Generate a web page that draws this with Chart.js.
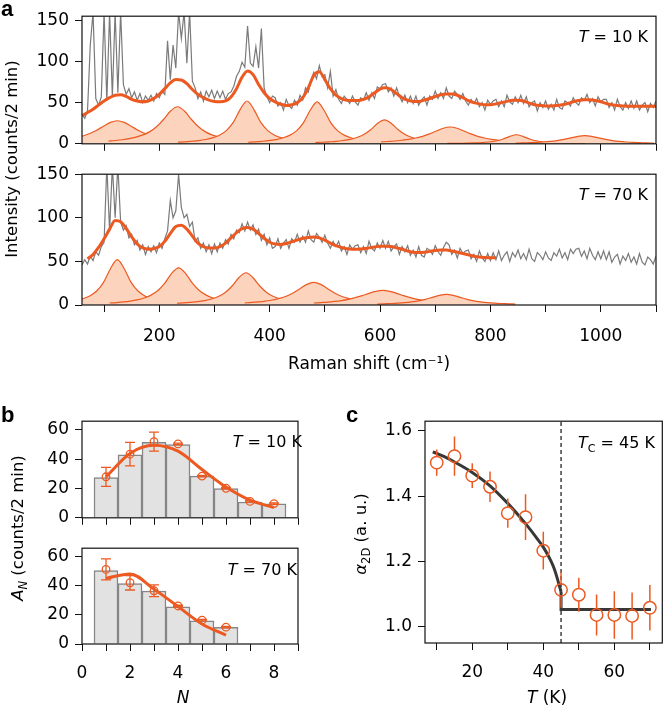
<!DOCTYPE html>
<html>
<head>
<meta charset="utf-8">
<script src="https://cdn.jsdelivr.net/npm/chart.js@4.4.1/dist/chart.umd.min.js"></script>
<style>
  body { margin: 0; width: 670px; height: 708px; overflow: hidden; background: #fff; position: relative;
         font-family: "DejaVu Sans", sans-serif; color: #000; }
  canvas, .lbl { position: absolute; }
  .panel { font-family: "Liberation Sans", Arial, sans-serif; font-weight: bold; font-size: 22px; line-height: 22px; }
  .note { font-size: 16px; line-height: 16px; white-space: nowrap; text-align: right; }
  .ytitle { font-size: 16.5px; white-space: nowrap; transform: translate(-50%, -50%) rotate(-90deg); }
  .xtitle { font-size: 17px; white-space: nowrap; transform: translate(-50%, -50%); }
  sub { font-size: 70%; }
</style>
</head>
<body>
<canvas id="a1" width="670" height="160" style="left:0;top:0"></canvas>
<canvas id="a2" width="670" height="222" style="left:0;top:158px"></canvas>
<canvas id="b1" width="310" height="129" style="left:0;top:405px"></canvas>
<canvas id="b2" width="310" height="178" style="left:0;top:532px"></canvas>
<canvas id="c1" width="330" height="304" style="left:340px;top:405px"></canvas>

<div class="lbl panel" style="left:1px;top:-2px">a</div>
<div class="lbl panel" style="left:1px;top:404px">b</div>
<div class="lbl panel" style="left:346px;top:404px">c</div>

<div class="lbl note" style="right:22px;top:29px"><i>T</i> = 10 K</div>
<div class="lbl note" style="right:22px;top:187px"><i>T</i> = 70 K</div>
<div class="lbl note" style="right:368px;top:434px"><i>T</i> = 10 K</div>
<div class="lbl note" style="right:373px;top:562px"><i>T</i> = 70 K</div>
<div class="lbl note" style="right:15px;top:435px"><i>T</i><sub>C</sub> = 45 K</div>

<div class="lbl ytitle" style="left:11px;top:159px">Intensity (counts/2 min)</div>
<div class="lbl ytitle" style="left:19px;top:528px"><i>A<sub>N</sub></i> (counts/2 min)</div>
<div class="lbl ytitle" style="left:362px;top:534px"><i>α</i><sub>2D</sub> (a. u.)</div>
<div class="lbl xtitle" style="left:183px;top:697px"><i>N</i></div>
<div class="lbl xtitle" style="left:547px;top:697px"><i>T</i> (K)</div>

<script>
// ---- panel a: Raman spectra (raw every 5 cm-1 from 60, fits every 10 cm-1) ----
const rawStart = 60, rawStep = 5;
const raw10K = [
  36, 31, 40, 120, 160, 55, 47, 57, 160, 52,
  160, 57, 160, 62, 160, 72, 60, 67, 56, 63,
  53, 61, 50, 58, 53, 59, 52, 61, 56, 64,
  60, 125, 78, 120, 92, 160, 128, 160, 98, 160,
  76, 68, 55, 63, 52, 64, 57, 65, 55, 64,
  56, 64, 54, 61, 63, 70, 82, 88, 99, 93,
  143, 98, 94, 118, 92, 140, 68, 57, 50, 58,
  56, 46, 50, 41, 54, 46, 43, 53, 47, 59,
  53, 68, 63, 77, 87, 79, 95, 82, 84, 68,
  88, 58, 66, 54, 49, 58, 54, 49, 58, 51,
  47, 56, 53, 62, 53, 62, 55, 69, 67, 72,
  73, 63, 68, 58, 68, 58, 51, 59, 50, 58,
  49, 58, 47, 53, 57, 47, 58, 54, 64, 55,
  62, 55, 68, 58, 55, 64, 60, 54, 61, 52,
  47, 54, 49, 55, 45, 50, 41, 53, 48, 52,
  54, 45, 52, 45, 59, 51, 48, 57, 50, 59,
  49, 57, 45, 50, 52, 40, 50, 44, 52, 42,
  48, 41, 54, 44, 42, 52, 50, 46, 56, 50,
  47, 56, 53, 60, 50, 55, 46, 57, 51, 54,
  54, 44, 50, 41, 54, 45, 41, 50, 43, 52,
  43, 52, 41, 47, 50, 39, 49, 44, 52
];
const raw70K = [
  46, 52, 47, 56, 51, 61, 57, 67, 72, 160,
  85, 160, 100, 160, 95, 86, 91, 77, 81, 69,
  74, 63, 69, 58, 67, 61, 68, 60, 71, 65,
  76, 85, 120, 100, 108, 150, 112, 100, 104, 90,
  95, 73, 77, 65, 71, 61, 69, 59, 70, 61,
  71, 65, 75, 70, 81, 76, 86, 83, 93, 85,
  95, 86, 92, 81, 87, 74, 81, 69, 77, 65,
  67, 76, 65, 71, 75, 65, 76, 72, 81, 72,
  79, 72, 85, 75, 72, 82, 78, 72, 80, 71,
  65, 73, 67, 73, 62, 67, 58, 69, 64, 68,
  69, 60, 67, 59, 73, 65, 62, 71, 65, 74,
  65, 73, 62, 67, 70, 58, 67, 61, 68, 57,
  63, 55, 67, 57, 55, 65, 63, 58, 68, 61,
  57, 66, 72, 69, 58, 63, 54, 65, 59, 62,
  63, 53, 58, 50, 62, 54, 50, 59, 51, 60,
  52, 62, 51, 57, 61, 50, 60, 55, 63, 53,
  59, 52, 64, 53, 50, 60, 57, 52, 61, 54,
  51, 60, 56, 64, 54, 60, 52, 64, 59, 64,
  65, 56, 62, 53, 65, 57, 52, 61, 53, 62,
  52, 61, 49, 55, 58, 47, 56, 51, 59, 49,
  55, 47, 59, 49, 46, 55, 52, 47, 56
];
const fitStep = 10;
const fit10KStart = 60;
const fit10K = [
  34, 38, 42, 47, 52, 56, 59, 59.5, 57.5, 54,
  52, 51, 52, 55, 60, 67, 74, 78, 77.5, 73,
  66, 60, 56, 53, 51.5, 51, 52, 57, 67, 81,
  88.5, 84, 72, 62, 55, 51, 48, 46.5, 47.5, 50,
  56, 68, 83, 87.5, 78, 67, 59, 55, 53, 52.5,
  52.5, 54, 57, 62, 66.5, 68, 66, 61, 56, 53,
  51.5, 51.5, 53, 55, 57.5, 59.5, 60.5, 60.5, 59, 56,
  52.5, 50, 48.5, 47.5, 47.5, 48.5, 50, 51.5, 53, 53,
  52, 49.5, 47.5, 46.5, 46, 46, 46.5, 47.5, 49, 51,
  52.5, 53.5, 53.5, 52.5, 51, 49, 47.5, 46.5, 46, 45.5,
  45.5, 45.5, 45.5, 45.5, 45.5
];
const fit70KStart = 70;
const fit70K = [
  53, 58, 66, 76, 87, 97, 95.5, 88, 78, 70,
  65.5, 64, 64.5, 67, 73, 82, 90, 91.5, 87, 79,
  71, 67, 65.5, 65.5, 67, 71, 77, 83, 87.5, 89,
  87, 82, 76.5, 72, 70, 69.5, 70.5, 72.5, 74.5, 76.5,
  77.5, 78, 77, 74.5, 71, 68, 66, 64.5, 64, 64,
  64.5, 65.5, 66.5, 67.5, 67.5, 67, 65.5, 64, 62, 60.5,
  60.3, 60.5, 61.5, 62.5, 63, 63, 62, 60.5, 59, 57.5,
  56, 55, 54.5, 54.3, 54.3
];
// fitted peak components, sampled at these offsets from each centre
const peakOffsets = [-125, -112.5, -100, -87.5, -75, -62.5, -50, -37.5, -25, -12.5, 0,
  12.5, 25, 37.5, 50, 62.5, 75, 87.5, 100, 112.5, 125];
const peaks10KCenters = [124, 233, 359, 486, 608, 727, 847, 971];
const peaks10K = [
  [3.2, 3.9, 4.7, 5.9, 7.4, 9.5, 12.5, 16.5, 21.4, 26, 28, 26, 21.4, 16.5, 12.5, 9.5, 7.4, 5.9, 4.7, 3.9, 3.2],
  [3.3, 4, 4.9, 6.2, 8.1, 10.8, 14.8, 21, 29.8, 39.9, 45, 39.9, 29.8, 21, 14.8, 10.8, 8.1, 6.2, 4.9, 4, 3.3],
  [2, 2.4, 3.1, 3.9, 5.2, 7.2, 10.4, 16, 26, 41.6, 52, 41.6, 26, 16, 10.4, 7.2, 5.2, 3.9, 3.1, 2.4, 2],
  [1.9, 2.4, 3, 3.8, 5.1, 7, 10.2, 15.7, 25.5, 40.8, 51, 40.8, 25.5, 15.7, 10.2, 7, 5.1, 3.8, 3, 2.4, 1.9],
  [1.6, 1.9, 2.4, 3, 4, 5.4, 7.7, 11.3, 17.1, 24.7, 29, 24.7, 17.1, 11.3, 7.7, 5.4, 4, 3, 2.4, 1.9, 1.6],
  [2.3, 2.8, 3.4, 4.3, 5.4, 7, 9.1, 12, 15.6, 18.9, 20.4, 18.9, 15.6, 12, 9.1, 7, 5.4, 4.3, 3.4, 2.8, 2.3],
  [0.4, 0.5, 0.6, 0.8, 1.1, 1.5, 2.2, 3.4, 5.5, 8.8, 11, 8.8, 5.5, 3.4, 2.2, 1.5, 1.1, 0.8, 0.6, 0.5, 0.4],
  [0.9, 1.1, 1.4, 1.7, 2.2, 2.9, 3.9, 5.3, 7.2, 9.1, 10, 9.1, 7.2, 5.3, 3.9, 2.9, 2.2, 1.7, 1.4, 1.1, 0.9]
];
const peaks70KCenters = [124, 235, 357, 480, 605, 720];
const peaks70K = [
  [2, 2.4, 3.1, 3.9, 5.2, 7.2, 10.4, 16, 26, 41.6, 52, 41.6, 26, 16, 10.4, 7.2, 5.2, 3.9, 3.1, 2.4, 2],
  [2.3, 2.8, 3.5, 4.5, 5.9, 8, 11.3, 16.6, 25.1, 36.3, 42.6, 36.3, 25.1, 16.6, 11.3, 8, 5.9, 4.5, 3.5, 2.8, 2.3],
  [2, 2.4, 3.1, 3.9, 5.1, 6.9, 9.8, 14.4, 21.8, 31.5, 37, 31.5, 21.8, 14.4, 9.8, 6.9, 5.1, 3.9, 3.1, 2.4, 2],
  [2.4, 2.9, 3.6, 4.5, 5.7, 7.6, 10.1, 13.8, 18.7, 23.7, 26, 23.7, 18.7, 13.8, 10.1, 7.6, 5.7, 4.5, 3.6, 2.9, 2.4],
  [2.3, 2.8, 3.3, 4.1, 5.1, 6.5, 8.4, 10.7, 13.4, 15.7, 16.7, 15.7, 13.4, 10.7, 8.4, 6.5, 5.1, 4.1, 3.3, 2.8, 2.3],
  [1.1, 1.4, 1.7, 2.1, 2.7, 3.6, 4.8, 6.5, 8.8, 11.1, 12.2, 11.1, 8.8, 6.5, 4.8, 3.6, 2.7, 2.1, 1.7, 1.4, 1.1]
];

// ---- panel b: amplitudes A_N ----
const nValues = [1, 2, 3, 4, 5, 6, 7, 8];
const bars10K = [27.5, 43, 51.5, 50, 28.5, 20, 10.8, 9.5];
const amp10K = [28, 43.5, 52, 50.5, 28.5, 20.2, 11.2, 9.7];
const ampErr10K = [6.5, 8, 6.5, 0.5, 0.5, 0.5, 0.5, 0.5];
const ampFit10K = [28, 44, 49.5, 45.5, 33, 21, 12, 7];
const bars70K = [50.5, 41.7, 36.5, 25.6, 16, 11.4];
const amp70K = [51.4, 42.2, 36.7, 26.2, 16.4, 11.6];
const ampErr70K = [7.2, 5, 4, 0.5, 0.5, 0.5];
const ampFit70K = [45.2, 48.3, 37.8, 25.8, 13.8, 6.1];

// ---- panel c: alpha_2D vs temperature ----
const tValues = [10, 15, 20, 25, 30, 35, 40, 45, 50, 55, 60, 65, 70];
const alpha2D = [1.503, 1.523, 1.463, 1.429, 1.348, 1.336, 1.233, 1.113, 1.098, 1.036, 1.036, 1.033, 1.058];
const alphaErr = [0.04, 0.06, 0.038, 0.047, 0.045, 0.07, 0.058, 0.055, 0.052, 0.063, 0.073, 0.072, 0.07];
const fitT = [8.9, 12, 15, 20, 25, 30, 35, 38, 40, 42, 43, 44, 44.6, 45];
const fitAlpha = [1.536, 1.522, 1.505, 1.473, 1.432, 1.378, 1.316, 1.274, 1.244, 1.205, 1.18, 1.146, 1.122, 1.108];
const stepT = [45, 45, 70.3];
const stepAlpha = [1.108, 1.053, 1.053];
const tcT = [45, 45];
const tcAlpha = [0.95, 1.63];

const ORANGE = "#ec5a22";
const PEACH = "#fcd3bc";

Chart.defaults.font.family = "DejaVu Sans";
Chart.defaults.font.size = 17;
Chart.defaults.color = "#000";
Chart.defaults.elements.point.radius = 0;

const frame = {
  id: "frame",
  afterDraw(chart) {
    const a = chart.chartArea, ctx = chart.ctx;
    ctx.save();
    ctx.strokeStyle = "#111";
    ctx.lineWidth = 1.2;
    ctx.strokeRect(a.left, a.top, a.right - a.left, a.bottom - a.top);
    ctx.restore();
  }
};

const errorBars = {
  id: "errorBars",
  afterDatasetsDraw(chart, args, opts) {
    if (!opts.values) return;
    const ctx = chart.ctx, y = chart.scales.y;
    const ds = chart.data.datasets[opts.dataset];
    const meta = chart.getDatasetMeta(opts.dataset);
    ctx.save();
    ctx.strokeStyle = opts.color;
    ctx.lineWidth = opts.width;
    meta.data.forEach((el, i) => {
      const v = ds.data[i].y, e = opts.values[i];
      const top = y.getPixelForValue(v + e), bot = y.getPixelForValue(v - e);
      const x = el.x, gap = opts.gap || 0;
      ctx.beginPath();
      if (!gap) {
        ctx.moveTo(x, top); ctx.lineTo(x, bot);
      } else if (el.y - top > gap) {
        ctx.moveTo(x, top); ctx.lineTo(x, el.y - gap);
        ctx.moveTo(x, el.y + gap); ctx.lineTo(x, bot);
      }
      if (opts.cap) {
        ctx.moveTo(x - opts.cap, top); ctx.lineTo(x + opts.cap, top);
        ctx.moveTo(x - opts.cap, bot); ctx.lineTo(x + opts.cap, bot);
      }
      ctx.stroke();
    });
    ctx.restore();
  }
};

const tickGrid = { drawOnChartArea: false, drawTicks: true, tickLength: 7, color: "#111", lineWidth: 1 };
const noChrome = { legend: { display: false }, tooltip: { enabled: false } };

function series(start, step, values) {
  return values.map((y, i) => ({ x: start + i * step, y }));
}
function pairs(xs, ys) {
  return ys.map((y, i) => ({ x: xs[i], y }));
}

function spectrumChart(id, padTop, yMax, raw, fitStart, fit, centers, peaks, showLabels) {
  const datasets = [
    { data: series(fitStart, fitStep, fit), borderColor: ORANGE, borderWidth: 3, cubicInterpolationMode: "monotone", order: 0 },
    { data: series(rawStart, rawStep, raw), borderColor: "#7a7a7a", borderWidth: 1.2, order: 1 }
  ];
  peaks.forEach((vals, k) => datasets.push({
    data: vals.map((y, i) => ({ x: centers[k] + peakOffsets[i], y })),
    borderColor: ORANGE, borderWidth: 1.2, backgroundColor: PEACH, fill: "origin",
    cubicInterpolationMode: "monotone", order: 100 - k
  }));
  return new Chart(document.getElementById(id), {
    type: "line",
    data: { datasets },
    options: {
      responsive: false, animation: false,
      layout: { padding: { top: padTop, right: 2 } },
      plugins: noChrome,
      scales: {
        x: {
          type: "linear", min: 60, max: 1100, grid: tickGrid, border: { display: false },
          ticks: { stepSize: 100, includeBounds: false, autoSkip: false, maxRotation: 0, padding: 14,
                   callback: v => (showLabels && v % 200 === 0 ? v : "") },
          title: { display: showLabels, text: "Raman shift (cm⁻¹)", font: { size: 17 }, padding: { top: 0, bottom: 5 } },
          afterFit: s => { s.height = showLabels ? 75 : 14; }
        },
        y: {
          min: 0, max: yMax, grid: tickGrid, border: { display: false },
          ticks: { stepSize: 50, includeBounds: false, padding: 6 },
          afterFit: s => { s.width = 82; }
        }
      }
    },
    plugins: [frame]
  });
}

spectrumChart("a1", 12, 155, raw10K, fit10KStart, fit10K, peaks10KCenters, peaks10K, false);
spectrumChart("a2", 12, 150, raw70K, fit70KStart, fit70K, peaks70KCenters, peaks70K, true);

function histChart(id, padTop, bars, amp, err, fit, showLabels) {
  const n = nValues.slice(0, bars.length);
  return new Chart(document.getElementById(id), {
    type: "bar",
    data: {
      datasets: [
        { type: "line", data: pairs(n, amp), showLine: false, pointRadius: 3.8, pointBorderWidth: 1.3,
          pointBorderColor: ORANGE, pointBackgroundColor: "rgba(0,0,0,0)", order: 0 },
        { type: "line", data: pairs(n, fit), borderColor: ORANGE, borderWidth: 3,
          cubicInterpolationMode: "monotone", order: 1 },
        { type: "bar", data: pairs(n, bars), backgroundColor: "#e2e2e2", borderColor: "#868686",
          borderWidth: 1.5, barPercentage: 1, categoryPercentage: 1, order: 2 }
      ]
    },
    options: {
      responsive: false, animation: false,
      layout: { padding: { top: padTop, right: 3 } },
      plugins: Object.assign({ errorBars: { dataset: 0, values: err, cap: 5, color: ORANGE, width: 1.3 } }, noChrome),
      scales: {
        x: {
          type: "linear", min: 0, max: 9, offset: false, grid: Object.assign({ offset: false }, tickGrid),
          border: { display: false },
          ticks: { stepSize: 1, includeBounds: false, autoSkip: false, maxRotation: 0, padding: 12,
                   callback: v => (showLabels && v % 2 === 0 && v <= 8 ? v : "") },
          afterFit: s => { s.height = showLabels ? 66 : 14; }
        },
        y: {
          min: 0, max: 66, grid: tickGrid, border: { display: false },
          ticks: { stepSize: 20, includeBounds: false, padding: 6 },
          afterFit: s => { s.width = 82; }
        }
      }
    },
    plugins: [frame, errorBars]
  });
}

histChart("b1", 13, bars10K, amp10K, ampErr10K, ampFit10K, false);
histChart("b2", 11, bars70K, amp70K, ampErr70K, ampFit70K, true);

new Chart(document.getElementById("c1"), {
  type: "line",
  data: {
    datasets: [
      { data: pairs(tValues, alpha2D), showLine: false, pointRadius: 6.2, pointBorderWidth: 1.5,
        pointBorderColor: ORANGE, pointBackgroundColor: "rgba(0,0,0,0)", order: 0 },
      { data: pairs(fitT, fitAlpha), borderColor: "#383838", borderWidth: 3, cubicInterpolationMode: "monotone", order: 1 },
      { data: pairs(stepT, stepAlpha), borderColor: "#383838", borderWidth: 3, order: 2 },
      { data: pairs(tcT, tcAlpha), borderColor: "#222", borderWidth: 1.3, borderDash: [4, 3], order: 3 }
    ]
  },
  options: {
    responsive: false, animation: false,
    layout: { padding: { top: 12, right: 2 } },
    plugins: Object.assign({ errorBars: { dataset: 0, values: alphaErr, gap: 6.2, color: ORANGE, width: 1.5 } }, noChrome),
    scales: {
      x: {
        type: "linear", min: 6.7, max: 73.5, grid: tickGrid, border: { display: false },
        ticks: { stepSize: 10, includeBounds: false, autoSkip: false, maxRotation: 0, padding: 12,
                 callback: v => (v % 20 === 0 ? v : "") },
        afterFit: s => { s.height = 66; }
      },
      y: {
        min: 0.95, max: 1.63, grid: tickGrid, border: { display: false },
        ticks: { stepSize: 0.2, includeBounds: false, padding: 6, callback: v => v.toFixed(1) },
        afterFit: s => { s.width = 85; }
      }
    }
  },
  plugins: [frame, errorBars]
});
</script>
</body>
</html>
